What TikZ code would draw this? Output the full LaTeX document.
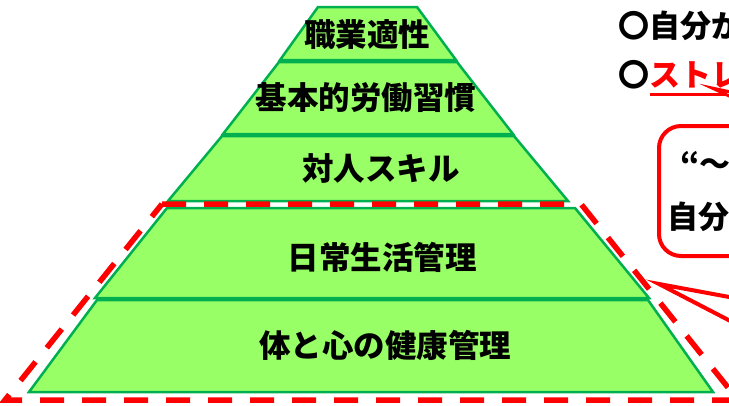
\documentclass[tikz,border=0pt]{standalone}
\usepackage{fontspec}
\newfontfamily\jp{Noto Sans CJK JP}
\definecolor{lgreen}{HTML}{99FF66}
\definecolor{dgreen}{HTML}{00B050}
\definecolor{myred}{HTML}{FF0000}
\begin{document}
\begin{tikzpicture}[x=1pt,y=-1pt,
  layer/.style={fill=lgreen,draw=dgreen,line width=2.5pt,line join=miter},
  lbl/.style={font=\jp\bfseries\fontsize{31.5}{34}\selectfont,text=black,inner sep=0pt},
  rtxt/.style={font=\jp\bfseries\fontsize{31}{34}\selectfont,inner sep=0pt,anchor=west},
  reddash/.style={draw=myred,line width=5.5pt,dash pattern=on 24pt off 18pt},
  callout/.style={draw=myred,line width=4pt,fill=white,line join=miter}]
\useasboundingbox (0,0) rectangle (729,405);
\clip (0,0) rectangle (729,405);
% pyramid layers
\draw[layer] (318,7) -- (417,7) -- (456,60) -- (280,60) -- cycle;
\draw[layer] (279,62) -- (457,62) -- (513,134) -- (223,134) -- cycle;
\draw[layer] (222,136) -- (514,136) -- (568,201) -- (168,201) -- cycle;
\draw[layer] (167,208) -- (575,208) -- (649,298) -- (95,298) -- cycle;
\draw[layer] (97,300) -- (648,300) -- (713,392) -- (29,392) -- cycle;
\node[lbl] (l1) at (367,35) {職業適性};
\node[lbl] (l2) at (366,98) {基本的労働習慣};
\node[lbl] (l3) at (381,169) {対人スキル};
\node[lbl] (l4) at (382,257) {日常生活管理};
\node[lbl] (l5) at (385,345) {体と心の健康管理};
% red dashed frame
\draw[reddash] (162,204) -- (581,204) -- (738,400) -- (5,400) -- cycle;
% right side texts
\node[rtxt] (t1) at (618,25) {〇自分が};
\node[rtxt] (t2) at (618,75) {〇\textcolor{myred}{ストレス}};
\coordinate (u1) at (650,94);
\coordinate (u2) at (740,94);
\draw[myred,line width=3pt] (u1) -- (u2);
% upper callout tail tip
\draw[callout,line width=3pt] (712,88) -- (740,94) -- (740,101) -- cycle;
% rounded callout box
\draw[myred,line width=4pt,fill=white,rounded corners=22pt] (659,126) rectangle (900,256);
\node[rtxt] (b1) at (680,163) {“～};
\node[rtxt] (b2) at (667,217) {自分};
% lower callout tail
\coordinate (tip) at (659,284);
\draw[callout] (tip) -- (740,299) -- (740,326) -- cycle;
\end{tikzpicture}
\end{document}
